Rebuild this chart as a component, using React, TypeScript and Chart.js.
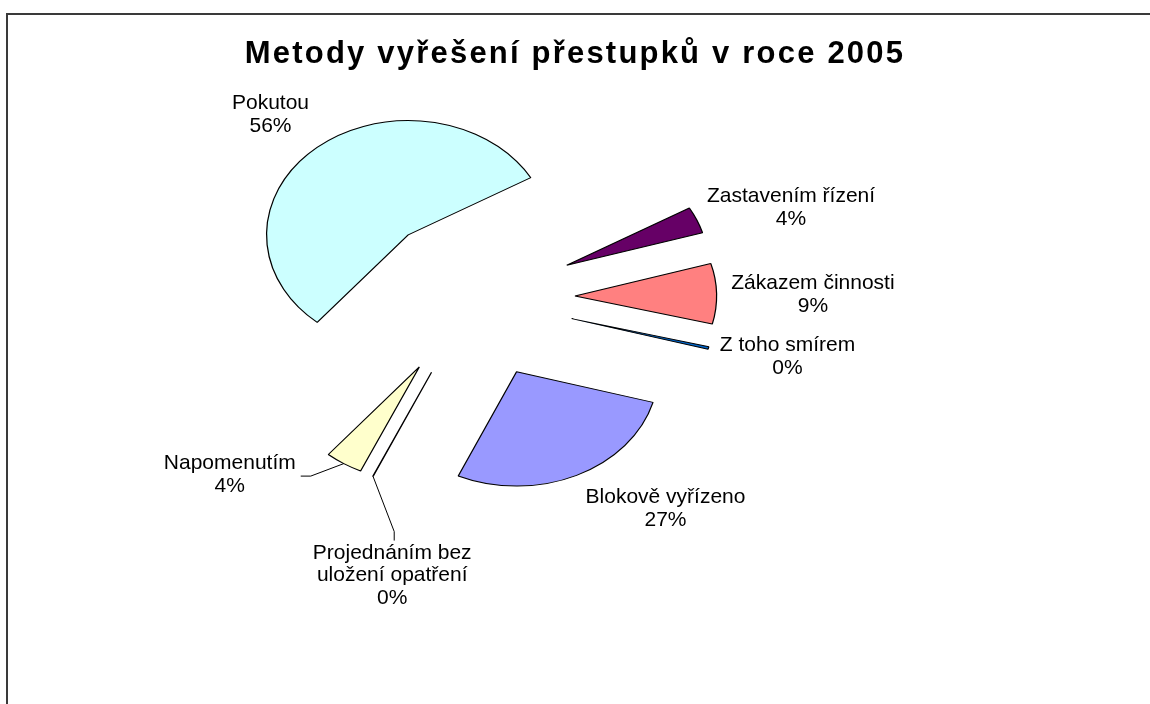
import React, { useEffect, useRef } from "react";
import { Chart, registerables, layouts } from "chart.js";

Chart.register(...registerables);

// ---------- data ----------
const TITLE = "Metody vyřešení přestupků v roce 2005";
const CATEGORIES = [
  "Blokově vyřízeno",
  "Projednáním bez uložení opatření",
  "Napomenutím",
  "Pokutou",
  "Zastavením řízení",
  "Zákazem činnosti",
  "Z toho smírem",
];
const SHARES = [27.45, 0.05, 4.3, 55.55, 3.75, 8.55, 0.35];
const COLORS = ["#9999FF", "#993366", "#FFFFCC", "#CCFFFF", "#660066", "#FF8080", "#0066CC"];

// ---------- layout / style ----------
const W = 1150;
const H = 704;
const PIE_CENTER_X = 473.5;
const PIE_RADIUS = 114.3;
const STRETCH_X = 1.239;
const EXPLODE = 0.717; // fraction of the radius
const FIRST_SLICE_ANGLE = 105.5;
const FONT_FAMILY = '"Liberation Sans", Arial, sans-serif';
const LABEL_FONT = `21px ${FONT_FAMILY}`;
const LABEL_LINE = 22.7;
const LABEL_WRAP = 178;
// label block centre relative to the slice's outer mid point, and leader style
const LABEL_SHIFT: [number, number, string | null][] = [
  [88.9, 33.3, null],
  [19.2, 99.3, "top"],
  [-114, 10.8, "right"],
  [-46.6, -32.7, null],
  [94.2, -12.5, null],
  [96.3, 1, null],
  [79, 8.8, null],
];

function wrapText(ctx: CanvasRenderingContext2D, text: string, maxW: number) {
  const words = text.split(" ");
  const lines: string[] = [];
  let cur = "";
  for (const w of words) {
    const t = cur ? cur + " " + w : w;
    if (cur && ctx.measureText(t).width > maxW) {
      lines.push(cur);
      cur = w;
    } else cur = t;
  }
  if (cur) lines.push(cur);
  return lines;
}

function makeSpacer(width: number) {
  return {
    id: "rightSpacer",
    position: "right",
    weight: 0,
    fullSize: false,
    options: { stackWeight: 1 },
    left: 0,
    top: 0,
    right: 0,
    bottom: 0,
    width: 0,
    height: 0,
    isHorizontal() {
      return false;
    },
    update(_maxWidth: number, maxHeight: number) {
      this.width = width;
      this.height = maxHeight;
    },
    draw() {},
  };
}

const excelPiePlugin = {
  id: "excelPie",
  beforeInit(chart: any) {
    layouts.addBox(chart, makeSpacer(W - 2 * PIE_CENTER_X) as any);
  },
  beforeDraw(chart: any) {
    const ctx = chart.ctx as CanvasRenderingContext2D;
    ctx.save();
    ctx.fillStyle = "#ffffff";
    ctx.fillRect(0, 0, chart.width, chart.height);
    ctx.strokeStyle = "#3a3a3a";
    ctx.lineWidth = 2;
    ctx.beginPath();
    ctx.moveTo(7, chart.height);
    ctx.lineTo(7, 14);
    ctx.lineTo(chart.width, 14);
    ctx.stroke();
    ctx.restore();
    (ctx as any).letterSpacing = "2.2px";
  },
  beforeDatasetsDraw(chart: any) {
    const ctx = chart.ctx as CanvasRenderingContext2D;
    (ctx as any).letterSpacing = "0px";
    const meta = chart.getDatasetMeta(0);
    meta.data.forEach((arc: any) => {
      const { x, y, startAngle, endAngle, outerRadius } = arc.getProps(
        ["x", "y", "startAngle", "endAngle", "outerRadius"],
        true
      );
      const mid = (startAngle + endAngle) / 2;
      const d = EXPLODE * outerRadius;
      ctx.save();
      ctx.translate(x, y);
      ctx.scale(STRETCH_X, 1);
      ctx.translate(Math.cos(mid) * d, Math.sin(mid) * d);
      ctx.translate(-x, -y);
      arc.draw(ctx);
      ctx.restore();
    });
    return false;
  },
  afterDraw(chart: any) {
    const ctx = chart.ctx as CanvasRenderingContext2D;
    const meta = chart.getDatasetMeta(0);
    const data = chart.data.datasets[0].data as number[];
    const total = data.reduce((a, b) => a + b, 0);
    ctx.save();
    (ctx as any).letterSpacing = "0px";
    ctx.font = LABEL_FONT;
    ctx.fillStyle = "#000";
    ctx.strokeStyle = "#000";
    ctx.lineWidth = 1;
    ctx.textAlign = "center";
    ctx.textBaseline = "middle";
    meta.data.forEach((arc: any, i: number) => {
      const { x, y, startAngle, endAngle, outerRadius } = arc.getProps(
        ["x", "y", "startAngle", "endAngle", "outerRadius"],
        true
      );
      const mid = (startAngle + endAngle) / 2;
      const r = outerRadius * (1 + EXPLODE);
      const ax = x + Math.cos(mid) * r * STRETCH_X;
      const ay = y + Math.sin(mid) * r;
      const lines = wrapText(ctx, chart.data.labels[i], LABEL_WRAP);
      lines.push(Math.round((data[i] / total) * 100) + "%");
      const [dx, dy, leader] = LABEL_SHIFT[i];
      const cx = ax + dx;
      const cy = ay + dy;
      const bw = Math.max(...lines.map((l) => ctx.measureText(l).width));
      const top = cy - (lines.length * LABEL_LINE) / 2;
      lines.forEach((l, k) => ctx.fillText(l, cx, top + LABEL_LINE * (k + 0.5)));
      if (leader) {
        ctx.beginPath();
        ctx.moveTo(ax, ay);
        if (leader === "right") {
          ctx.lineTo(cx + bw / 2 + 15, cy + 1.7);
          ctx.lineTo(cx + bw / 2 + 5, cy + 1.7);
        } else {
          ctx.lineTo(cx + 2, top - 10);
          ctx.lineTo(cx + 2, top - 1);
        }
        ctx.stroke();
      }
    });
    ctx.restore();
  },
};

export default function App() {
  const canvasRef = useRef<HTMLCanvasElement | null>(null);

  useEffect(() => {
    const canvas = canvasRef.current;
    if (!canvas) return;
    const chart = new Chart(canvas, {
      type: "pie",
      data: {
        labels: CATEGORIES,
        datasets: [
          {
            data: SHARES,
            backgroundColor: COLORS,
            borderColor: "#000000",
            borderWidth: 1,
            radius: PIE_RADIUS,
          } as any,
        ],
      },
      options: {
        responsive: false,
        devicePixelRatio: 1,
        animation: false,
        rotation: FIRST_SLICE_ANGLE,
        layout: { padding: { top: 0, left: 0, right: 0, bottom: 182 } },
        plugins: {
          legend: { display: false },
          tooltip: { enabled: false },
          title: {
            display: true,
            text: TITLE,
            color: "#000000",
            font: { family: FONT_FAMILY, size: 31, weight: "bold", lineHeight: 1.2 },
            padding: { top: 36, bottom: 0 },
          },
        },
      } as any,
      plugins: [excelPiePlugin as any],
    });
    return () => chart.destroy();
  }, []);

  return (
    <div
      style={{
        position: "fixed",
        left: 0,
        top: 0,
        width: W,
        height: H,
        overflow: "hidden",
        background: "#ffffff",
      }}
    >
      <canvas ref={canvasRef} width={W} height={H} style={{ display: "block", width: W, height: H }} />
    </div>
  );
}
